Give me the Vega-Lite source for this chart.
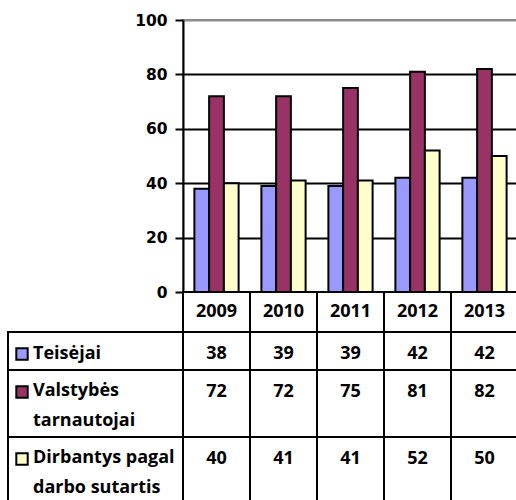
{
  "$schema": "https://vega.github.io/schema/vega-lite/v6.json",
  "padding": {"left": 7, "top": 12, "right": 0, "bottom": 0},
  "background": "white",
  "columns": 2,
  "spacing": 0,
  "bounds": "flush",
  "config": {
    "font": "Open Sans",
    "view": {"stroke": null},
    "text": {"font": "Open Sans", "fontWeight": "bold", "fontSize": 18, "color": "black", "lineHeight": 30}
  },
  "datasets": {
    "values": [
      {"series": "Teisėjai", "year": "2009", "value": 38},
      {"series": "Teisėjai", "year": "2010", "value": 39},
      {"series": "Teisėjai", "year": "2011", "value": 39},
      {"series": "Teisėjai", "year": "2012", "value": 42},
      {"series": "Teisėjai", "year": "2013", "value": 42},
      {"series": "Valstybės tarnautojai", "year": "2009", "value": 72},
      {"series": "Valstybės tarnautojai", "year": "2010", "value": 72},
      {"series": "Valstybės tarnautojai", "year": "2011", "value": 75},
      {"series": "Valstybės tarnautojai", "year": "2012", "value": 81},
      {"series": "Valstybės tarnautojai", "year": "2013", "value": 82},
      {"series": "Dirbantys pagal darbo sutartis", "year": "2009", "value": 40},
      {"series": "Dirbantys pagal darbo sutartis", "year": "2010", "value": 41},
      {"series": "Dirbantys pagal darbo sutartis", "year": "2011", "value": 41},
      {"series": "Dirbantys pagal darbo sutartis", "year": "2012", "value": 52},
      {"series": "Dirbantys pagal darbo sutartis", "year": "2013", "value": 50}
    ],
    "series": [
      {"series": "Teisėjai", "label": ["Teisėjai"]},
      {"series": "Valstybės tarnautojai", "label": ["Valstybės", "tarnautojai"]},
      {"series": "Dirbantys pagal darbo sutartis", "label": ["Dirbantys pagal", "darbo sutartis"]}
    ],
    "empty": []
  },
  "concat": [
    {
      "width": 175, "height": 272,
      "data": {"name": "empty"},
      "mark": "point",
      "encoding": {}
    },
    {
      "width": 335, "height": 272,
      "view": {"stroke": "#8c8c8c", "strokeWidth": 2},
      "data": {"name": "values"},
      "mark": {"type": "bar", "stroke": "black", "strokeWidth": 2},
      "encoding": {
        "x": {
          "field": "year", "type": "nominal",
          "scale": {"paddingInner": 0.34, "paddingOuter": 0.17},
          "axis": {"labels": false, "title": null, "tickBand": "extent", "ticks": true, "tickSize": 7, "tickColor": "black", "tickWidth": 2, "domainColor": "black", "domainWidth": 2, "grid": false}
        },
        "xOffset": {"field": "series", "type": "nominal", "sort": ["Teisėjai", "Valstybės tarnautojai", "Dirbantys pagal darbo sutartis"]},
        "y": {
          "field": "value", "type": "quantitative",
          "scale": {"domain": [0, 100], "nice": false},
          "axis": {
            "values": [0, 20, 40, 60, 80, 100], "title": null,
            "grid": true, "gridColor": {"condition": {"test": "datum.value == 100", "value": "#8c8c8c"}, "value": "black"}, "gridWidth": 2,
            "domainColor": "black", "domainWidth": 2, "tickColor": "black", "tickWidth": 2, "tickSize": 8,
            "labelFont": "DejaVu Sans", "labelFontWeight": "bold", "labelFontSize": 15.5, "labelColor": "black", "labelPadding": 8
          }
        },
        "color": {
          "field": "series", "type": "nominal",
          "scale": {"domain": ["Teisėjai", "Valstybės tarnautojai", "Dirbantys pagal darbo sutartis"], "range": ["#9999FF", "#993366", "#FFFFCC"]},
          "legend": null
        }
      }
    },
    {
      "width": 175, "height": 40,
      "data": {"name": "empty"},
      "mark": "point",
      "encoding": {}
    },
    {
      "width": 335, "height": 40,
      "data": {"name": "values"},
      "transform": [{"filter": "datum.series == 'Teisėjai'"}],
      "encoding": {
        "x": {"field": "year", "type": "nominal", "scale": {"padding": 0}, "axis": null}
      },
      "layer": [
        {"mark": {"type": "rect", "fill": "white", "stroke": "black", "strokeWidth": 2}},
        {"mark": {"type": "text"}, "encoding": {"text": {"field": "year"}}}
      ]
    },
    {
      "width": 175, "height": 38,
      "view": {"stroke": "black", "strokeWidth": 2},
      "data": {"name": "series"},
      "transform": [{"filter": "datum.series == 'Teisėjai'"}],
      "layer": [
        {"mark": {"type": "square", "size": 130, "filled": true, "stroke": "black", "strokeWidth": 2, "opacity": 1, "xOffset": -73.5, "yOffset": 3},
         "encoding": {"color": {"field": "series", "type": "nominal", "scale": {"domain": ["Teisėjai", "Valstybės tarnautojai", "Dirbantys pagal darbo sutartis"], "range": ["#9999FF", "#993366", "#FFFFCC"]}, "legend": null}}},
        {"mark": {"type": "text", "align": "left", "dx": -62.5, "dy": 3}, "encoding": {"text": {"field": "label"}}}
      ]
    },
    {
      "width": 335, "height": 38,
      "data": {"name": "values"},
      "transform": [{"filter": "datum.series == 'Teisėjai'"}],
      "encoding": {
        "x": {"field": "year", "type": "nominal", "scale": {"padding": 0}, "axis": null}
      },
      "layer": [
        {"mark": {"type": "rect", "fill": "white", "stroke": "black", "strokeWidth": 2}},
        {"mark": {"type": "text", "dy": 3}, "encoding": {"text": {"field": "value"}}}
      ]
    },
    {
      "width": 175, "height": 67,
      "view": {"stroke": "black", "strokeWidth": 2},
      "data": {"name": "series"},
      "transform": [{"filter": "datum.series == 'Valstybės tarnautojai'"}],
      "layer": [
        {"mark": {"type": "square", "size": 130, "filled": true, "stroke": "black", "strokeWidth": 2, "opacity": 1, "xOffset": -73.5, "yOffset": -11.5},
         "encoding": {"color": {"field": "series", "type": "nominal", "scale": {"domain": ["Teisėjai", "Valstybės tarnautojai", "Dirbantys pagal darbo sutartis"], "range": ["#9999FF", "#993366", "#FFFFCC"]}, "legend": null}}},
        {"mark": {"type": "text", "align": "left", "dx": -62.5, "dy": -12.5}, "encoding": {"text": {"field": "label"}}}
      ]
    },
    {
      "width": 335, "height": 67,
      "data": {"name": "values"},
      "transform": [{"filter": "datum.series == 'Valstybės tarnautojai'"}],
      "encoding": {
        "x": {"field": "year", "type": "nominal", "scale": {"padding": 0}, "axis": null}
      },
      "layer": [
        {"mark": {"type": "rect", "fill": "white", "stroke": "black", "strokeWidth": 2}},
        {"mark": {"type": "text", "dy": -12}, "encoding": {"text": {"field": "value"}}}
      ]
    },
    {
      "width": 175, "height": 67,
      "view": {"stroke": "black", "strokeWidth": 2},
      "data": {"name": "series"},
      "transform": [{"filter": "datum.series == 'Dirbantys pagal darbo sutartis'"}],
      "layer": [
        {"mark": {"type": "square", "size": 130, "filled": true, "stroke": "black", "strokeWidth": 2, "opacity": 1, "xOffset": -73.5, "yOffset": -11.5},
         "encoding": {"color": {"field": "series", "type": "nominal", "scale": {"domain": ["Teisėjai", "Valstybės tarnautojai", "Dirbantys pagal darbo sutartis"], "range": ["#9999FF", "#993366", "#FFFFCC"]}, "legend": null}}},
        {"mark": {"type": "text", "align": "left", "dx": -62.5, "dy": -12.5}, "encoding": {"text": {"field": "label"}}}
      ]
    },
    {
      "width": 335, "height": 67,
      "data": {"name": "values"},
      "transform": [{"filter": "datum.series == 'Dirbantys pagal darbo sutartis'"}],
      "encoding": {
        "x": {"field": "year", "type": "nominal", "scale": {"padding": 0}, "axis": null}
      },
      "layer": [
        {"mark": {"type": "rect", "fill": "white", "stroke": "black", "strokeWidth": 2}},
        {"mark": {"type": "text", "dy": -12}, "encoding": {"text": {"field": "value"}}}
      ]
    }
  ]
}
